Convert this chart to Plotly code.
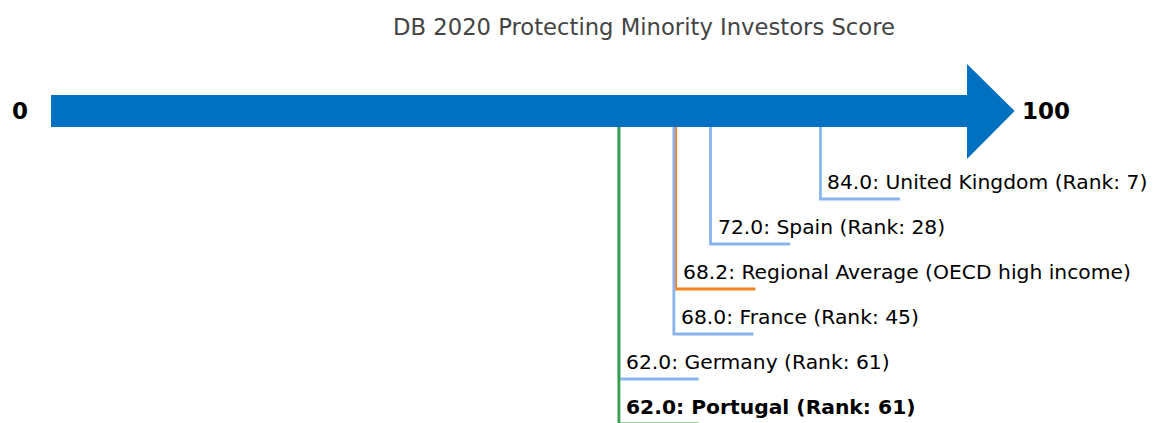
import plotly.graph_objects as go

# score values
labels = ["United Kingdom (Rank: 7)", "Spain (Rank: 28)", "Regional Average (OECD high income)",
          "France (Rank: 45)", "Germany (Rank: 61)", "Portugal (Rank: 61)"]
scores = [84.0, 72.0, 68.2, 68.0, 62.0, 62.0]
colors = ["#8ab4ef", "#8ab4ef", "#f5831f", "#8ab4ef", "#8ab4ef", "#36a14a"]
bold = [False, False, False, False, False, True]

W, H = 1159, 423
off = 8  # page body margin
px_per_unit = 9.16
x0_px = 51
xmin = (off - x0_px) / px_per_unit
xmax = xmin + (W - off) / px_per_unit

shaft_top, shaft_bot = 95, 127
head_top, head_bot = 64, 159
head_len = 5.2
mid = (shaft_top + shaft_bot) / 2

fig = go.Figure()

# arrow
ax = [0, 100, 100, 100 + head_len, 100, 100, 0, 0]
ay = [shaft_top, shaft_top, head_top, mid, head_bot, shaft_bot, shaft_bot, shaft_top]
fig.add_trace(go.Scatter(x=ax, y=ay, fill="toself", fillcolor="#0070c0",
                         line=dict(color="#0070c0", width=0), mode="lines",
                         hoverinfo="skip", showlegend=False))

first_y = 199
step = 45
tick_len = 8.7
for i, (lab, s, c, b) in enumerate(zip(labels, scores, colors, bold)):
    yl = first_y + step * i
    fig.add_trace(go.Scatter(x=[s, s, s + tick_len], y=[shaft_bot, yl, yl], mode="lines",
                             line=dict(color=c, width=2.8), hoverinfo="skip",
                             showlegend=False))
    txt = f"{s:.1f}: {lab}"
    if b:
        txt = f"<b>{txt}</b>"
    fig.add_annotation(x=s + 0.55, y=yl - 17, text=txt, showarrow=False,
                       xanchor="left", yanchor="middle",
                       font=dict(family="DejaVu Sans", size=20.3, color="black"))

fig.add_annotation(x=-3.4, y=mid, text="<b>0</b>", showarrow=False,
                   xanchor="center", yanchor="middle",
                   font=dict(family="DejaVu Sans", size=23, color="black"))
fig.add_annotation(x=100 + head_len + 0.6, y=mid, text="<b>100</b>", showarrow=False,
                   xanchor="left", yanchor="middle",
                   font=dict(family="DejaVu Sans", size=23, color="black"))

fig.update_layout(
    width=W - off, height=H - off,
    margin=dict(l=0, r=0, t=0, b=0),
    paper_bgcolor="white", plot_bgcolor="white",
    title=dict(text="DB 2020 Protecting Minority Investors Score",
               x=(644 - off) / (W - off), xanchor="center",
               y=1 - (27 - off) / (H - off), yanchor="middle",
               font=dict(family="DejaVu Sans", size=22.7, color="#444444")),
    xaxis=dict(range=[xmin, xmax], visible=False, fixedrange=True),
    yaxis=dict(range=[H, off], visible=False, fixedrange=True),
)

fig.write_html("out.html")
